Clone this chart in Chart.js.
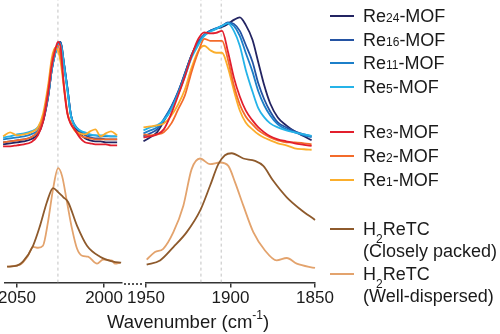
<!DOCTYPE html>
<html><head><meta charset="utf-8">
<script src="https://cdn.jsdelivr.net/npm/chart.js@4.4.0/dist/chart.umd.min.js"></script>
<style>
html,body{margin:0;padding:0;background:#fff;}
#wrap{position:relative;width:500px;height:334px;overflow:hidden;font-family:"Liberation Sans",Arial,sans-serif;color:#1a1a1a;}
#cL{position:absolute;left:-20px;top:0;}
#cR{position:absolute;left:126px;top:0;}
.lg-line{position:absolute;left:330px;width:24px;height:2px;}
.lg-text{position:absolute;left:363px;font-size:18px;line-height:20px;white-space:nowrap;}
.sub{font-size:12px;}
.sub2{font-size:12px;position:relative;top:8px;}
#brk{position:absolute;left:124px;top:283px;width:20px;height:2px;background-image:linear-gradient(to right,#555 50%,transparent 50%);background-size:4px 2px;}
#xtitle{position:absolute;left:107px;top:307px;font-size:18.5px;line-height:20px;white-space:nowrap;}
#xtitle sup{font-size:12px;position:relative;top:-2px;}
</style></head>
<body>
<div id="wrap">
  <canvas id="cL" width="150" height="334"></canvas>
  <canvas id="cR" width="214" height="334"></canvas>
  <div id="brk"></div>
  <div id="xtitle">Wavenumber (cm<sup>-1</sup>)</div>
  <div id="legend"></div>
</div>
<script>
// ---- data ----
const leftTicks = [2050, 2000];
const rightTicks = [1950, 1900, 1850];
const guideLeft = [2026.5];
const guideRight = [1917.5, 1905.5];

const leftWave = [2058, 2054, 2050, 2046, 2042, 2038, 2035, 2032, 2030, 2028, 2026.5, 2025, 2023, 2021, 2019, 2017, 2014, 2011, 2008, 2005, 2002, 1999, 1996, 1992.5];
const re24L = [139,140,141,142,144,149,162,188,214,231,239,242,220,195,168,157,150,145,143,142,142,141,141,141];
const re16L = [141,142,143,144,146,151,163,188,214,231,239,242,220,195,168,158,152,148,146,145,145,144,144,144];
const re11L = [144,145,146,147,149,153,165,189,215,231,239,241,219,194,168,159,153,150,148,148,147,147,147,147];
const re5L  = [146,147,149,150,152,156,166,190,215,231,238,240,218,192,167,158,153,151,149,148,148,148,147,147];
const re3L  = [137,137,138,139,141,148,162,192,218,234,242,237,196,169,159,154,146,141,140,139,139,139,138,138];
const re2L  = [141,142,143,144,146,152,166,196,222,236,238,228,198,170,160,154,148,146,145,144,144,144,144,144];
const re1L  = [147,151,148,149,151,156,170,200,226,236,233,222,195,170,160,153,150,149,152,154,147,150,152,148];
const closeL = [[2055.7,16],[2050,17],[2046.6,21],[2040.8,37],[2036.8,57],[2032.8,81],[2029.3,95],[2026.4,91],[2023.5,86],[2020.7,81],[2015.5,57],[2009.8,37],[2002.3,26],[1994.8,21],[1990.2,20]];
const wellL = [[2055.7,16],[2048.3,18],[2043.7,27],[2040.8,36],[2037.9,35],[2035.1,37],[2032.2,61],[2029.3,94],[2026.4,115],[2024.1,107],[2021.3,81],[2018.4,54],[2015.5,34],[2012.6,27],[2009.2,26],[2004,19],[2000.6,23],[1995.4,22],[1993.7,19],[1990.8,20]];

const rightWave = [1951.5, 1947.5, 1943.5, 1939.5, 1935, 1931, 1927, 1923, 1919, 1915.5, 1912, 1908.5, 1905, 1901.5, 1898, 1894.5, 1891, 1887, 1883.5, 1880, 1876.5, 1872, 1867, 1862, 1856.5, 1852];
const re24R = [142,146,151,162,176,191,210,229,242,249,253,255,257,260,264,266.5,259,244,221,198,180,166,158,152,147,143];
const re16R = [147,150,154,164,177,192,210,229,242,249,253,255.5,258,261.5,260,253,239,222,200,184,172,161,156,152,149,147];
const re11R = [150,153,156,164,176,191,209,228,241,249,253,255.5,258,261,258,248,231,212,192,178,168,159,154,151,148,146];
const re5R  = [153,156,158,163,174,189,207,226,239,248,252,255,258,260.5,253,238,214,192,175,166,160,156,153,151,149,147.5];
const re3R  = [146,147,149,154,170,188,207,228,245,251.5,250.5,251,253,232,206,187,173,163,156,151,147,144,142,140,138.5,137.3];
const re2R  = [149,148,149,151,160,174,188,212,232,245,243,243,243,224,198,179,167,159,153,149,146,143,141,141,140,139];
const re1R  = [156,157,158,160,168,179,194,216,233,238,233.5,231,231,216,193,173,161,154,149,145.5,143,140,138,135,134,133.5];
const closeR = [[1949.6,18],[1941.7,22.3],[1933.8,35.7],[1925.9,50.7],[1918,72.3],[1912.1,97.3],[1907.2,119],[1903.3,128],[1899.3,130],[1892.4,124.7],[1885.5,122.3],[1880.6,117.3],[1874.7,102.3],[1866.7,85.7],[1858.9,74],[1850,63]];
const wellR = [[1949.6,23],[1944.7,30.7],[1939.8,34],[1933.8,50.7],[1927.9,77.3],[1923,114],[1918,124.7],[1912.1,119],[1906.2,120.7],[1901.3,117.3],[1897.3,100.7],[1892.4,77.3],[1886.5,50.7],[1879.6,32.3],[1872.7,22.3],[1866.7,24.7],[1860.8,19],[1850,14.7]];

const seriesNames = ['Re<span class="sub">24</span>-MOF','Re<span class="sub">16</span>-MOF','Re<span class="sub">11</span>-MOF','Re<span class="sub">5</span>-MOF','Re<span class="sub">3</span>-MOF','Re<span class="sub">2</span>-MOF','Re<span class="sub">1</span>-MOF'];
const colors = ['#232462','#2453a3','#1c7fc9','#25b3e8','#e21f2d','#f36b2b','#fbae2c'];
const colClose = '#8e5a2c', colWell = '#e3a36d';

// ---- legend (HTML) ----
const legendRows = [16,40,63,87,132,156,180];
let lg = '';
seriesNames.forEach((n,i)=>{
  lg += `<div class="lg-line" style="top:${legendRows[i]-1}px;background:${colors[i]}"></div>`;
  lg += `<div class="lg-text" style="top:${legendRows[i]-10}px">${n}</div>`;
});
lg += `<div class="lg-line" style="top:228px;background:${colClose}"></div>`;
lg += `<div class="lg-text" style="top:219px">H<span class="sub2">2</span>ReTC</div>`;
lg += `<div class="lg-text" style="top:241px">(Closely packed)</div>`;
lg += `<div class="lg-line" style="top:273px;background:${colWell}"></div>`;
lg += `<div class="lg-text" style="top:264px">H<span class="sub2">2</span>ReTC</div>`;
lg += `<div class="lg-text" style="top:286px">(Well-dispersed)</div>`;
document.getElementById('legend').innerHTML = lg;

// ---- charts ----
const FONT = '"Liberation Sans", Arial, sans-serif';
function grid(wave, h, color){
  return {data: wave.map((w,i)=>({x:w,y:h[i]})), borderColor: color, borderWidth: 1.8, clip: 10, order: 1};
}
function pairs(p, color){
  return {data: p.map(a=>({x:a[0],y:a[1]})), borderColor: color, borderWidth: 1.8, clip: 10, order: 1};
}
function guide(w){
  return {data:[{x:w,y:0},{x:w,y:284}], borderColor:'#c2c2c2', borderWidth:1, borderDash:[3,3], order: 10, cubicInterpolationMode:'default', tension:0};
}
function opts(min, max, ticks, padL, padR){
  return {
    responsive:false, animation:false, devicePixelRatio:1,
    layout:{padding:{left:padL,right:padR,top:0,bottom:24}},
    plugins:{legend:{display:false},tooltip:{enabled:false}},
    elements:{point:{radius:0}, line:{cubicInterpolationMode:'monotone'}},
    scales:{
      x:{type:'linear', reverse:true, min:min, max:max,
         afterBuildTicks:s=>{ s.ticks = ticks.map(v=>({value:v})); },
         ticks:{callback:v=>String(v), font:{family:FONT,size:17}, color:'#1a1a1a', padding:1, maxRotation:0, autoSkip:false},
         grid:{display:true, drawOnChartArea:false, drawTicks:true, tickLength:5, color:'#333', lineWidth:1.5},
         border:{display:true, color:'#333', width:1.5}},
      y:{display:false, min:0, max:284}
    }
  };
}

new Chart(document.getElementById('cL'), {
  type:'line',
  data:{datasets:[
    grid(leftWave, re3L, colors[4]),
    grid(leftWave, re2L, colors[5]),
    grid(leftWave, re1L, colors[6]),
    grid(leftWave, re5L, colors[3]),
    grid(leftWave, re11L, colors[2]),
    grid(leftWave, re16L, colors[1]),
    grid(leftWave, re24L, colors[0]),
    pairs(closeL, colClose),
    pairs(wellL, colWell),
    ...guideLeft.map(guide)
  ]},
  options: opts(1989.7, 2056.9, leftTicks, 25, 8)
});

new Chart(document.getElementById('cR'), {
  type:'line',
  data:{datasets:[
    grid(rightWave, re3R, colors[4]),
    grid(rightWave, re2R, colors[5]),
    grid(rightWave, re1R, colors[6]),
    grid(rightWave, re5R, colors[3]),
    grid(rightWave, re11R, colors[2]),
    grid(rightWave, re16R, colors[1]),
    grid(rightWave, re24R, colors[0]),
    pairs(closeR, colClose),
    pairs(wellR, colWell),
    ...guideRight.map(guide)
  ]},
  options: opts(1850, 1950, rightTicks, 20, 25)
});
</script>
</body></html>
